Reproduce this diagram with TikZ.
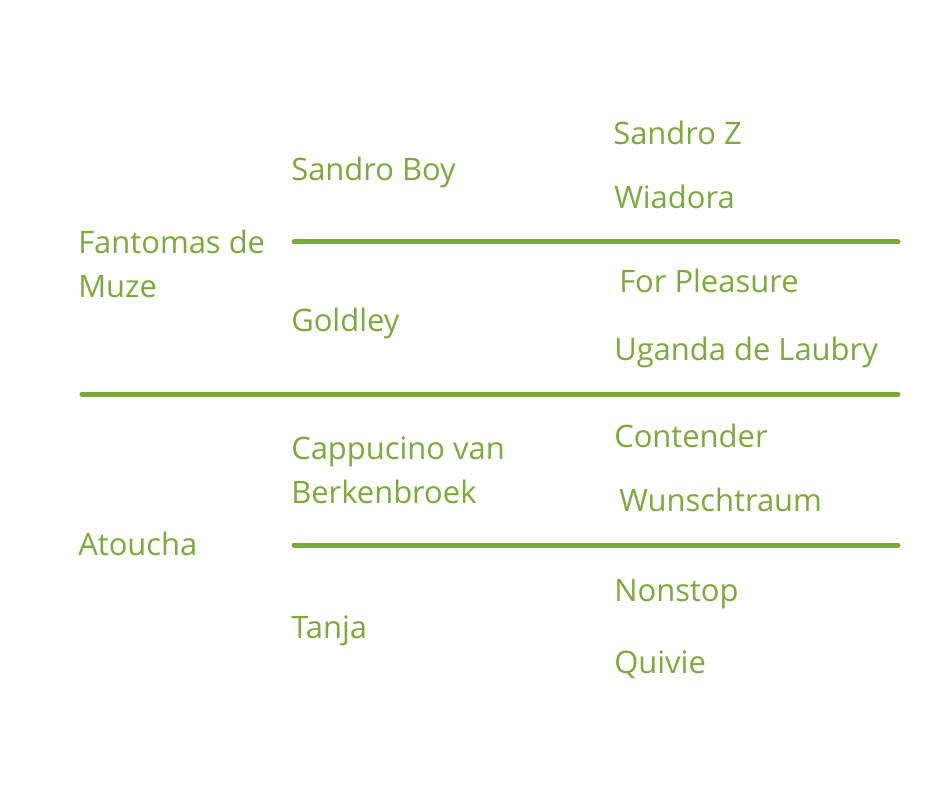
\documentclass[tikz,border=0pt]{standalone}
\usepackage{fontspec}
\setmainfont{Open Sans}
\usepackage{xcolor}
\usepackage{tikz}
\usetikzlibrary{positioning}
\definecolor{hgreen}{RGB}{122,170,58}

\begin{document}
\begin{tikzpicture}[x=0.75pt, y=-0.75pt]
\tikzstyle{every node} = [anchor=base west, inner sep=0, text=hgreen, align=left, font=\fontsize{23.2}{33}\selectfont]
\useasboundingbox (0,0) rectangle (940,788);
% generation 1
\node (sire) at (78,298) {Fantomas de\\Muze};
\node (dam) at (78,555) {Atoucha};
% generation 2
\node (ss) at (291,181) {Sandro Boy};
\node (sd) at (291,331) {Goldley};
\node (ds) at (291,503) {Cappucino van\\Berkenbroek};
\node (dd) at (291,638) {Tanja};
% generation 3
\node (sss) at (613,145) {Sandro Z};
\node (ssd) at (614,209) {Wiadora};
\node (sds) at (619,293) {For Pleasure};
\node (sdd) at (614,360) {Uganda de Laubry};
\node (dss) at (614,447) {Contender};
\node (dsd) at (619,511) {Wunschtraum};
\node (dds) at (614,601) {Nonstop};
\node (ddd) at (614,673) {Quivie};
\tikzstyle{every node} = []
% dividers
\coordinate (a1) at (294,242);
\coordinate (a2) at (898,242);
\coordinate (b1) at (82,394);
\coordinate (b2) at (898,394);
\coordinate (c1) at (294,545);
\coordinate (c2) at (898,545);
\draw[hgreen, line width=3.75pt, line cap=round] (a1) -- (a2);
\draw[hgreen, line width=3.75pt, line cap=round] (b1) -- (b2);
\draw[hgreen, line width=3.75pt, line cap=round] (c1) -- (c2);
\end{tikzpicture}
\end{document}
